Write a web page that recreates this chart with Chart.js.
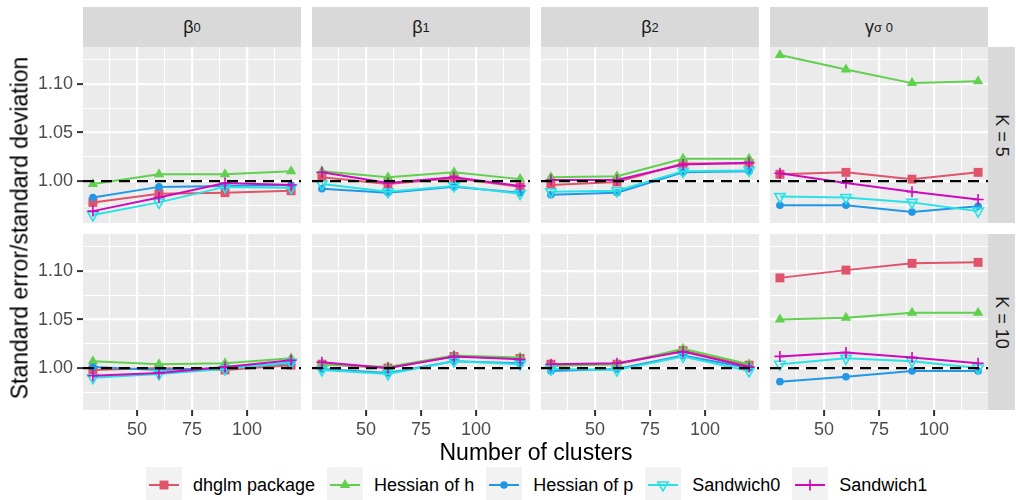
<!DOCTYPE html>
<html>
<head>
<meta charset="utf-8">
<script src="https://cdn.jsdelivr.net/npm/chart.js@4/dist/chart.umd.min.js"></script>
<style>
  body { margin: 0; width: 1016px; height: 500px; position: relative; overflow: hidden; background: #fff;
         font-family: 'Liberation Sans', Arial, sans-serif; }
  .strip { position: absolute; background: #D9D9D9; color: #1A1A1A; font-size: 18px;
           display: flex; align-items: center; justify-content: center; }
  .strip sub { font-size: 0.72em; vertical-align: -0.3em; }
  .vstrip span { transform: rotate(90deg); white-space: nowrap; }
  #legend { position: absolute; left: 146px; top: 467px; height: 36px; display: flex; align-items: center; font-size: 18px; color: #000; }
  #legend .key { width: 36px; height: 36px; background: #F2F2F2; margin-right: 11px; }
  #legend .txt { margin-right: 12px; white-space: nowrap; }
</style>
</head>
<body>
<div id="legend"></div>
<script>
const clusters = [30, 60, 90, 120];
const methods = ['dhglm package', 'Hessian of h', 'Hessian of p', 'Sandwich0', 'Sandwich1'];
const params = ['β<sub>0</sub>', 'β<sub>1</sub>', 'β<sub>2</sub>', 'γ<sub>σ 0</sub>'];
const kLabels = ['K = 5', 'K = 10'];
const xTickLabels = [50, 75, 100];
const yTickLabels = [1.00, 1.05, 1.10];
const refValue = 1;

// K = 5, one row per parameter (beta0, beta1, beta2, gamma)
const dhglmK5 = [[0.978, 0.987, 0.988, 0.990], [1.004, 0.997, 1.003, 0.994], [0.996, 0.999, 1.018, 1.018], [1.007, 1.009, 1.002, 1.009]];
const hessHK5 = [[0.997, 1.007, 1.007, 1.010], [1.010, 1.004, 1.009, 1.002], [1.004, 1.005, 1.023, 1.023], [1.130, 1.115, 1.101, 1.103]];
const hessPK5 = [[0.983, 0.994, 0.995, 0.996], [0.992, 0.988, 0.994, 0.988], [0.986, 0.988, 1.009, 1.010], [0.975, 0.975, 0.968, 0.974]];
const sand0K5 = [[0.965, 0.978, 0.994, 0.993], [0.997, 0.989, 0.995, 0.987], [0.989, 0.990, 1.010, 1.011], [0.984, 0.983, 0.978, 0.969]];
const sand1K5 = [[0.969, 0.983, 0.998, 0.996], [1.009, 0.998, 1.004, 0.995], [1.001, 1.001, 1.017, 1.019], [1.008, 0.998, 0.989, 0.981]];

// K = 10
const dhglmK10 = [[0.998, 1.000, 0.998, 1.003], [1.004, 1.000, 1.012, 1.010], [1.004, 1.004, 1.018, 1.003], [1.093, 1.101, 1.108, 1.109]];
const hessHK10 = [[1.007, 1.004, 1.005, 1.010], [1.004, 1.001, 1.013, 1.011], [1.002, 1.004, 1.020, 1.004], [1.050, 1.052, 1.057, 1.057]];
const hessPK10 = [[1.001, 0.998, 1.000, 1.005], [0.999, 0.995, 1.007, 1.005], [0.997, 0.999, 1.013, 1.000], [0.986, 0.991, 0.997, 0.997]];
const sand0K10 = [[0.990, 0.994, 0.999, 1.006], [0.998, 0.994, 1.007, 1.004], [0.999, 0.998, 1.012, 0.997], [1.004, 1.010, 1.007, 1.000]];
const sand1K10 = [[0.992, 0.995, 1.001, 1.008], [1.006, 1.000, 1.012, 1.009], [1.004, 1.005, 1.017, 1.001], [1.012, 1.016, 1.011, 1.005]];

const seriesByK = [
  [dhglmK5, hessHK5, hessPK5, sand0K5, sand1K5],
  [dhglmK10, hessHK10, hessPK10, sand0K10, sand1K10]
];

const colors = ['#DF536B', '#61D04F', '#2297E6', '#28E2E5', '#CD0BBC'];
const shapes = [
  { pointStyle: 'rect', radius: 6.3, fill: true, rotation: 0 },
  { pointStyle: 'triangle', radius: 6, fill: true, rotation: 0 },
  { pointStyle: 'circle', radius: 3.8, fill: true, rotation: 0 },
  { pointStyle: 'triangle', radius: 6, fill: false, rotation: 180 },
  { pointStyle: 'cross', radius: 5.5, fill: false, rotation: 0 }
];

// ggplot-like expanded limits
const allVals = seriesByK.flat(3);
const yMin = Math.min(...allVals), yMax = Math.max(...allVals);
const yLim = [yMin - 0.05 * (yMax - yMin), yMax + 0.05 * (yMax - yMin)];
const xLim = [clusters[0] - 0.05 * (clusters[3] - clusters[0]), clusters[3] + 0.05 * (clusters[3] - clusters[0])];

// layout
const colLeft = [83, 312, 541, 770];
const rowTop = [47, 234];
const panelW = 218, panelH = 176;
const xAxisH = 40;

function gridTicks(lim, step) {
  const out = [];
  for (let k = Math.ceil(lim[0] / step); k * step <= lim[1]; k++) out.push({ value: Math.round(k * step * 1000) / 1000 });
  return out;
}
const isMajorX = v => Math.abs(v / 25 - Math.round(v / 25)) < 1e-6;
const isMajorY = v => Math.abs(v * 20 - Math.round(v * 20)) < 1e-6;

const panelBg = {
  id: 'panelBg',
  beforeDraw(chart) {
    const a = chart.chartArea, ctx = chart.ctx;
    ctx.save();
    ctx.fillStyle = '#EBEBEB';
    ctx.fillRect(a.left, a.top, a.right - a.left, a.bottom - a.top);
    ctx.restore();
  }
};
const refLine = {
  id: 'refLine',
  afterDatasetsDraw(chart) {
    const a = chart.chartArea, ctx = chart.ctx;
    const y = chart.scales.y.getPixelForValue(refValue);
    ctx.save();
    ctx.strokeStyle = '#000';
    ctx.lineWidth = 2.3;
    ctx.setLineDash([11, 7]);
    ctx.beginPath();
    ctx.moveTo(a.left, y);
    ctx.lineTo(a.right, y);
    ctx.stroke();
    ctx.restore();
  }
};

function makePanel(r, c) {
  const yAxisW = c === 0 ? colLeft[0] : 0;
  const xh = r === 1 ? xAxisH : 0;
  const w = panelW + yAxisW, h = panelH + xh;
  const canvas = document.createElement('canvas');
  canvas.width = w; canvas.height = h;
  canvas.style.cssText = `position:absolute;left:${colLeft[c] - yAxisW}px;top:${rowTop[r]}px;width:${w}px;height:${h}px`;
  document.body.appendChild(canvas);
  const data = seriesByK[r];
  const tickFont = { family: 'Liberation Sans', size: 18 };

  new Chart(canvas, {
    type: 'line',
    data: {
      datasets: methods.map((m, i) => ({
        label: m,
        data: clusters.map((x, j) => ({ x, y: data[i][c][j] })),
        borderColor: colors[i],
        borderWidth: 2,
        pointStyle: shapes[i].pointStyle,
        pointRadius: shapes[i].radius,
        pointRotation: shapes[i].rotation,
        pointBackgroundColor: shapes[i].fill ? colors[i] : 'rgba(0,0,0,0)',
        pointBorderColor: colors[i],
        pointBorderWidth: shapes[i].fill ? 0 : 1.6,
        tension: 0,
        fill: false,
        order: methods.length - i
      }))
    },
    options: {
      responsive: false,
      animation: false,
      events: [],
      devicePixelRatio: 1,
      layout: { padding: 0, autoPadding: false },
      plugins: { legend: { display: false }, tooltip: { enabled: false } },
      scales: {
        x: {
          type: 'linear', min: xLim[0], max: xLim[1],
          afterBuildTicks: s => { s.ticks = gridTicks(xLim, 12.5); },
          afterFit: s => { s.height = xh; s.paddingLeft = 0; s.paddingRight = 0; },
          border: { display: false },
          grid: {
            color: '#FFFFFF',
            lineWidth: ctx => (ctx.tick && isMajorX(ctx.tick.value)) ? 2.2 : 1.1,
            drawTicks: r === 1, tickLength: 6, tickWidth: 2,
            tickColor: ctx => (ctx.tick && isMajorX(ctx.tick.value)) ? '#333333' : 'rgba(0,0,0,0)'
          },
          ticks: {
            display: r === 1, autoSkip: false, maxRotation: 0, padding: 3,
            color: '#4D4D4D', font: tickFont,
            callback: v => xTickLabels.includes(v) ? String(v) : ''
          }
        },
        y: {
          type: 'linear', min: yLim[0], max: yLim[1],
          afterBuildTicks: s => { s.ticks = gridTicks(yLim, 0.025); },
          afterFit: s => { s.width = yAxisW; s.paddingTop = 0; s.paddingBottom = 0; },
          border: { display: false },
          grid: {
            color: '#FFFFFF',
            lineWidth: ctx => (ctx.tick && isMajorY(ctx.tick.value)) ? 2.2 : 1.1,
            drawTicks: c === 0, tickLength: 6, tickWidth: 2,
            tickColor: ctx => (ctx.tick && isMajorY(ctx.tick.value)) ? '#333333' : 'rgba(0,0,0,0)'
          },
          ticks: {
            display: c === 0, autoSkip: false, padding: 4,
            color: '#4D4D4D', font: tickFont,
            callback: v => yTickLabels.some(t => Math.abs(t - v) < 1e-6) ? v.toFixed(2) : ''
          }
        }
      }
    },
    plugins: [panelBg, refLine]
  });
}

for (let r = 0; r < 2; r++) for (let c = 0; c < 4; c++) makePanel(r, c);

// strips
params.forEach((p, c) => {
  const d = document.createElement('div');
  d.className = 'strip';
  d.style.cssText = `left:${colLeft[c]}px;top:7px;width:${panelW}px;height:40px;`;
  d.innerHTML = p;
  document.body.appendChild(d);
});
kLabels.forEach((k, r) => {
  const d = document.createElement('div');
  d.className = 'strip vstrip';
  d.style.cssText = `left:${colLeft[3] + panelW}px;top:${rowTop[r]}px;width:27px;height:${panelH}px;`;
  d.innerHTML = `<span>${k}</span>`;
  document.body.appendChild(d);
});

// axis titles
const yTitle = document.createElement('div');
yTitle.textContent = 'Standard error/standard deviation';
yTitle.style.cssText = 'position:absolute;left:20px;top:228px;font-size:23px;white-space:nowrap;transform:translate(-50%,-50%) rotate(-90deg);';
document.body.appendChild(yTitle);
const xTitle = document.createElement('div');
xTitle.textContent = 'Number of clusters';
xTitle.style.cssText = 'position:absolute;left:536px;top:452px;font-size:23px;white-space:nowrap;transform:translate(-50%,-50%);';
document.body.appendChild(xTitle);

// legend
const legend = document.getElementById('legend');
methods.forEach((m, i) => {
  const key = document.createElement('canvas');
  key.className = 'key';
  key.width = 36; key.height = 36;
  legend.appendChild(key);
  const ctx = key.getContext('2d');
  ctx.strokeStyle = colors[i];
  ctx.lineWidth = 2;
  ctx.beginPath(); ctx.moveTo(3, 18); ctx.lineTo(33, 18); ctx.stroke();
  ctx.fillStyle = shapes[i].fill ? colors[i] : 'rgba(0,0,0,0)';
  ctx.lineWidth = shapes[i].fill ? 0 : 1.6;
  Chart.helpers.drawPoint(ctx, {
    pointStyle: shapes[i].pointStyle, radius: shapes[i].radius,
    rotation: shapes[i].rotation, borderWidth: shapes[i].fill ? 0 : 1.6
  }, 18, 18);
  const t = document.createElement('span');
  t.className = 'txt';
  t.textContent = m;
  legend.appendChild(t);
});
</script>
</body>
</html>
